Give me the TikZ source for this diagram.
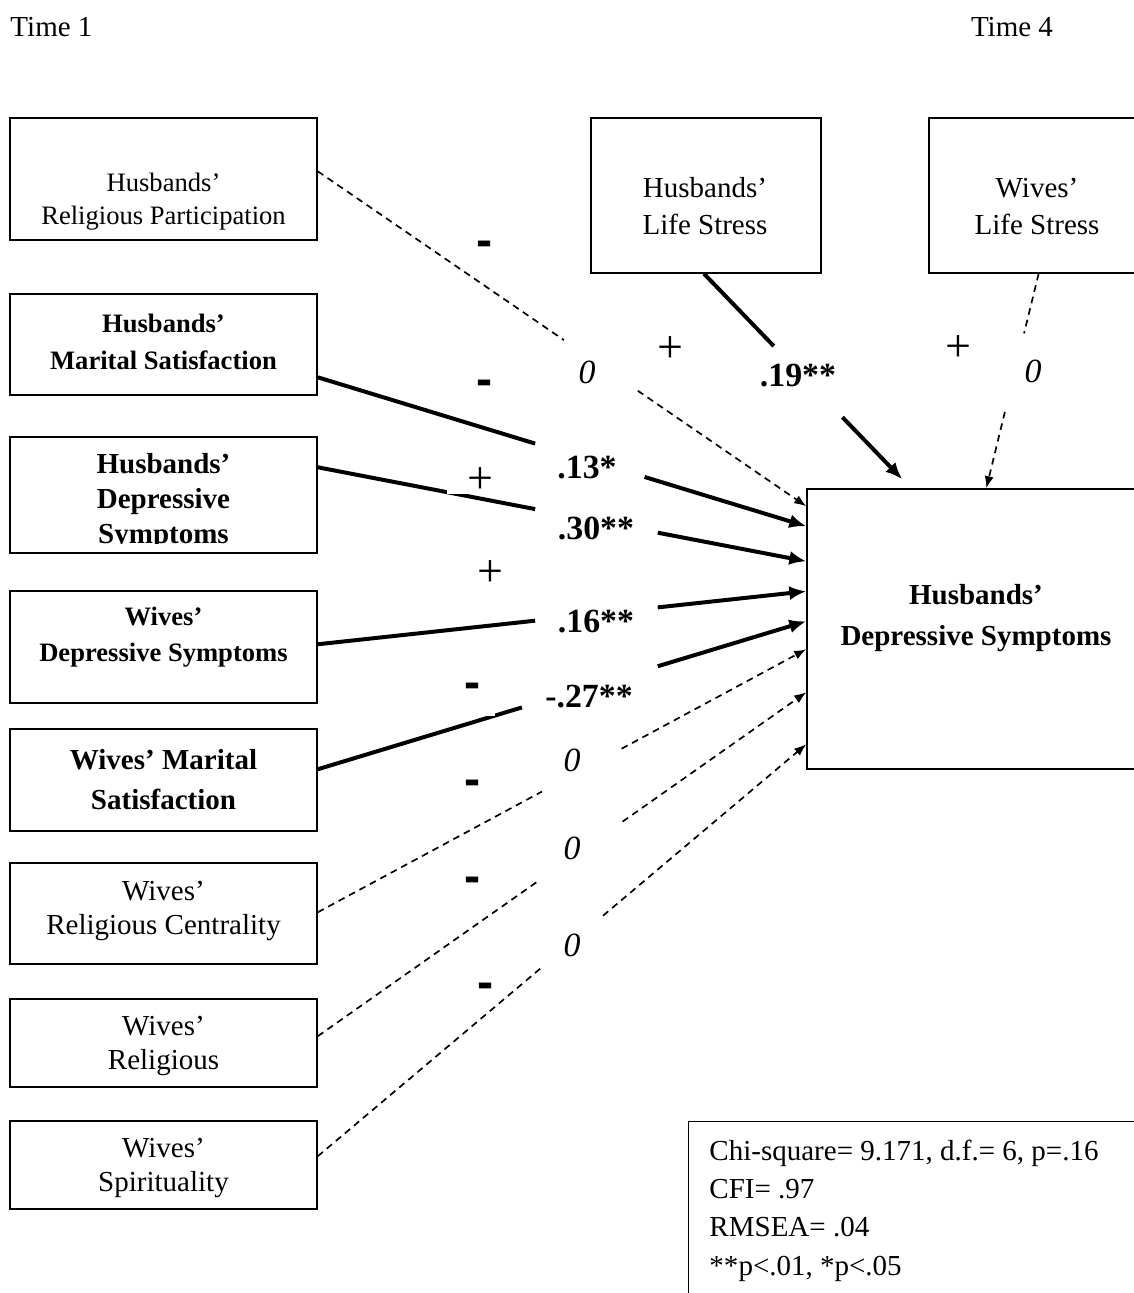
\documentclass[tikz,border=0pt]{standalone}
\usepackage{fontspec}
\setmainfont{Liberation Serif}
\newfontfamily\signsans{Liberation Sans}
\usetikzlibrary{arrows.meta,calc}
\def\u{0.4137pt}
\newcommand\fsz[2]{\fontsize{#1}{#2}\selectfont}

\begin{document}
\begin{tikzpicture}[x=0.4137pt,y=-0.4137pt,
  varbox/.style={draw, line width=0.6pt, inner sep=0pt},
  boxtext/.style={inner sep=0pt, align=center},
  solidpath/.style={line width=1.65pt},
  dashpath/.style={line width=0.7pt, dash pattern=on 2.8pt off 2.1pt},
  solidtip/.style={-{Latex[length=7pt,width=5.8pt]}},
  dashtip/.style={-{Latex[length=5pt,width=3.8pt]}},
  coef/.style={inner sep=0pt, font=\bfseries\fsz{14}{16}},
  zero/.style={inner sep=0pt, font=\itshape\fsz{14}{16}},
  plussign/.style={inner sep=0pt, font=\fsz{19}{20}},
  minussign/.style={inner sep=0pt, font=\signsans\bfseries\fsz{20}{22}},
]
\useasboundingbox (0,0) rectangle (1133,1293);
\fill[white] (0,0) rectangle (1133,1293);

% time headings
\node[anchor=west, inner sep=0pt, font=\fsz{12}{14}] (time1) at (10,27) {Time 1};
\node[inner sep=0pt, font=\fsz{12}{14}] (time4) at (1012,27) {Time 4};

% Time 1 predictors (left column)
\node[varbox, minimum width=307*\u, minimum height=122*\u] (hrp) at (163.5,179) {};
\node[varbox, minimum width=307*\u, minimum height=101*\u] (hms) at (163.5,344.5) {};
\node[varbox, minimum width=307*\u, minimum height=116*\u] (hds) at (163.5,495) {};
\node[varbox, minimum width=307*\u, minimum height=112*\u] (wds) at (163.5,647) {};
\node[varbox, minimum width=307*\u, minimum height=102*\u] (wms) at (163.5,780) {};
\node[varbox, minimum width=307*\u, minimum height=101*\u] (wrc) at (163.5,913.5) {};
\node[varbox, minimum width=307*\u, minimum height=88*\u] (wr) at (163.5,1043) {};
\node[varbox, minimum width=307*\u, minimum height=88*\u] (wsp) at (163.5,1165) {};

\node[boxtext, font=\fsz{11}{13.6}] (hrp-t) at (163.5,201.5) {Husbands’\\Religious Participation};
\node[boxtext, font=\bfseries\fsz{11}{15.3}] (hms-t) at (163.5,341.5) {Husbands’\\Marital Satisfaction};
\begin{scope}
  \clip (10,437) rectangle (317,543);
  \node[boxtext, font=\bfseries\fsz{12}{14.5}] (hds-t) at (163.5,502) {Husbands’\\Depressive\\Symptoms};
\end{scope}
\node[boxtext, font=\bfseries\fsz{11}{14.9}] (wds-t) at (163.5,637) {Wives’\\Depressive Symptoms};
\node[boxtext, font=\bfseries\fsz{12}{16.5}] (wms-t) at (163.5,780) {Wives’ Marital\\Satisfaction};
\node[boxtext, font=\fsz{12}{14.1}] (wrc-t) at (163.5,911) {Wives’\\Religious Centrality};
\node[boxtext, font=\fsz{12}{14.1}] (wr-t) at (163.5,1046) {Wives’\\Religious};
\node[boxtext, font=\fsz{12}{14.1}] (wsp-t) at (163.5,1168) {Wives’\\Spirituality};

% Time 4 stress boxes
\node[varbox, minimum width=230*\u, minimum height=155*\u] (hls) at (706,195.5) {};
\node[varbox, minimum width=216*\u, minimum height=155*\u] (wls) at (1037,195.5) {};
\node[boxtext, font=\fsz{12}{15.3}] (hls-t) at (705,206.5) {Husbands’\\Life Stress};
\node[boxtext, font=\fsz{12}{15.3}] (wls-t) at (1037,206.5) {Wives’\\Life Stress};

% outcome
\node[varbox, minimum width=338*\u, minimum height=280*\u] (out) at (976,629) {};
\node[boxtext, font=\bfseries\fsz{12}{17}] (out-t) at (976,618.5) {Husbands’\\Depressive Symptoms};

% fit statistics
\node[varbox, anchor=north west, minimum width=460*\u, minimum height=200*\u] (fitbox) at (688,1121) {};
\node[anchor=west, inner sep=0pt, align=left, font=\fsz{12}{15.85}] (fit-t) at (709,1210.5)
  {Chi-square= 9.171, d.f.= 6, p=.16\\CFI= .97\\RMSEA= .04\\**p<.01, *p<.05};

% path end points
\coordinate (s1) at ($(hrp.north east)+(0,54)$);
\coordinate (s2) at ($(hms.north east)+(0,84)$);
\coordinate (s3) at ($(hds.north east)+(0,31)$);
\coordinate (s4) at ($(wds.north east)+(0,54)$);
\coordinate (s5) at ($(wms.north east)+(0,41)$);
\coordinate (s6) at ($(wrc.north east)+(0,50)$);
\coordinate (s7) at ($(wr.north east)+(0,38)$);
\coordinate (s8) at ($(wsp.north east)+(0,36)$);
\coordinate (s9) at ($(hls.south)+(-2,0)$);
\coordinate (s10) at ($(wls.south)+(1.6,0)$);
\coordinate (t1) at ($(out.north west)+(0,18)$);
\coordinate (t2) at ($(out.north west)+(0,38)$);
\coordinate (t3) at ($(out.north west)+(0,73)$);
\coordinate (t4) at ($(out.north west)+(0,103)$);
\coordinate (t5) at ($(out.north west)+(0,133)$);
\coordinate (t6) at ($(out.north west)+(0,161)$);
\coordinate (t7) at ($(out.north west)+(0,204)$);
\coordinate (t8) at ($(out.north west)+(0,256)$);
\coordinate (t9) at ($(out.north west)+(96,-9)$);
\coordinate (t10) at ($(out.north west)+(180,0)$);

% paths, each broken where its coefficient sits
\draw[dashpath] (s1) -- ($(s1)!0.504!(t1)$);
\draw[dashpath,dashtip] ($(s1)!0.655!(t1)$) -- (t1);
\draw[solidpath] (s2) -- ($(s2)!0.445!(t2)$);
\draw[solidpath,solidtip] ($(s2)!0.669!(t2)$) -- (t2);
\draw[solidpath] (s3) -- ($(s3)!0.445!(t3)$);
\draw[solidpath,solidtip] ($(s3)!0.696!(t3)$) -- (t3);
\draw[solidpath] (s4) -- ($(s4)!0.445!(t4)$);
\draw[solidpath,solidtip] ($(s4)!0.696!(t4)$) -- (t4);
\draw[solidpath] (s5) -- ($(s5)!0.418!(t5)$);
\draw[solidpath,solidtip] ($(s5)!0.696!(t5)$) -- (t5);
\draw[dashpath] (s6) -- ($(s6)!0.459!(t6)$);
\draw[dashpath,dashtip] ($(s6)!0.622!(t6)$) -- (t6);
\draw[dashpath] (s7) -- ($(s7)!0.449!(t7)$);
\draw[dashpath,dashtip] ($(s7)!0.624!(t7)$) -- (t7);
\draw[dashpath] (s8) -- ($(s8)!0.459!(t8)$);
\draw[dashpath,dashtip] ($(s8)!0.584!(t8)$) -- (t8);
\draw[solidpath] (s9) -- ($(s9)!0.352!(t9)$);
\draw[solidpath,solidtip] ($(s9)!0.698!(t9)$) -- (t9);
\draw[dashpath] (s10) -- ($(s10)!0.278!(t10)$);
\draw[dashpath,dashtip] ($(s10)!0.644!(t10)$) -- (t10);

% expected signs and estimates
\node[minussign] (m1) at (485,249) {-};
\node[minussign] (m2) at (485,388) {-};
\node[zero] (z1) at (587,372) {0};
\node[plussign] (p1) at (670,350) {+};
\node[coef] (c1) at (798,376) {.19**};
\node[plussign] (p2) at (958,349) {+};
\node[zero] (z2) at (1033,371) {0};
\node[plussign, fill=white, minimum width=66*\u, minimum height=26*\u] (p3) at (480,481) {+};
\node[coef] (c2) at (587,468) {.13*};
\node[coef] (c3) at (596,528) {.30**};
\node[plussign] (p4) at (490,574) {+};
\node[coef] (c4) at (596,622) {.16**};
\node[minussign, fill=white, minimum width=44*\u, minimum height=50*\u] (m3) at (473,691) {-};
\node[coef] (c5) at (589,697) {-.27**};
\node[zero] (z3) at (572,760) {0};
\node[minussign] (m4) at (473,788) {-};
\node[zero] (z4) at (572,848) {0};
\node[minussign] (m5) at (473,885) {-};
\node[zero] (z5) at (572,945) {0};
\node[minussign] (m6) at (486,991) {-};
\end{tikzpicture}
\end{document}
